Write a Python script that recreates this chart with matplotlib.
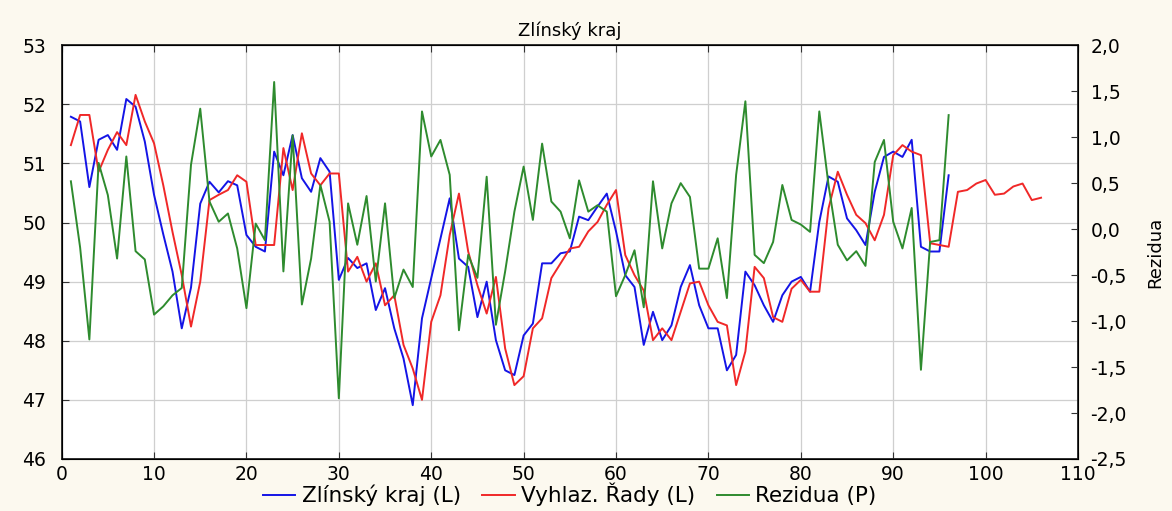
import numpy as np
import matplotlib.pyplot as plt
from matplotlib.ticker import FuncFormatter, MultipleLocator

plt.rcParams['font.family'] = ['DejaVu Sans']

# Zlínský kraj - pozorovaná řada (1..96)
zlin = [51.79, 51.71, 50.60, 51.40, 51.48, 51.23, 52.09, 51.96, 51.37, 50.47,
        49.80, 49.17, 48.21, 48.90, 50.32, 50.69, 50.51, 50.70, 50.63, 49.79,
        49.59, 49.51, 51.20, 50.80, 51.48, 50.75, 50.52, 51.09, 50.86, 49.03,
        49.40, 49.23, 49.31, 48.52, 48.89, 48.21, 47.70, 46.91, 48.38, 49.06,
        49.73, 50.41, 49.39, 49.25, 48.40, 49.00, 48.01, 47.50, 47.42, 48.09,
        48.29, 49.31, 49.31, 49.48, 49.51, 50.10, 50.04, 50.27, 50.49, 49.85,
        49.11, 48.91, 47.93, 48.49, 48.01, 48.26, 48.91, 49.28, 48.60, 48.21,
        48.21, 47.50, 47.76, 49.17, 48.94, 48.60, 48.32, 48.77, 49.00, 49.08,
        48.83, 50.01, 50.78, 50.69, 50.07, 49.87, 49.62, 50.52, 51.11, 51.20,
        51.11, 51.40, 49.59, 49.51, 49.51, 50.80]

# vyhlazená řada vč. předpovědi (1..106)
vyhlaz = [51.31, 51.82, 51.82, 50.86, 51.23, 51.53, 51.31, 52.16, 51.71, 51.34,
          50.63, 49.84, 49.11, 48.24, 49.00, 50.38, 50.47, 50.55, 50.80, 50.69,
          49.62, 49.62, 49.62, 51.26, 50.55, 51.51, 50.83, 50.63, 50.83, 50.83,
          49.17, 49.42, 49.00, 49.31, 48.60, 48.77, 47.93, 47.53, 47.00, 48.32,
          48.77, 49.79, 50.49, 49.51, 48.94, 48.46, 49.08, 47.87, 47.25, 47.40,
          48.21, 48.38, 49.06, 49.31, 49.56, 49.59, 49.85, 50.01, 50.30, 50.55,
          49.45, 49.11, 48.85, 48.01, 48.21, 48.01, 48.49, 48.97, 49.00, 48.60,
          48.32, 48.26, 47.25, 47.82, 49.25, 49.06, 48.40, 48.32, 48.88, 49.03,
          48.83, 48.83, 50.24, 50.86, 50.47, 50.13, 49.99, 49.70, 50.13, 51.14,
          51.31, 51.20, 51.14, 49.65, 49.62, 49.59, 50.52, 50.55, 50.66, 50.72,
          50.47, 50.49, 50.61, 50.66, 50.38, 50.42]

# rezidua (1..96)
rezidua = [0.52, -0.20, -1.20, 0.72, 0.37, -0.32, 0.79, -0.24, -0.33, -0.93,
           -0.84, -0.72, -0.64, 0.70, 1.31, 0.30, 0.08, 0.17, -0.21, -0.86,
           0.06, -0.12, 1.60, -0.46, 1.02, -0.82, -0.32, 0.48, 0.08, -1.84,
           0.28, -0.17, 0.36, -0.57, 0.28, -0.75, -0.44, -0.63, 1.28, 0.79,
           0.97, 0.59, -1.10, -0.28, -0.53, 0.57, -1.04, -0.46, 0.19, 0.68,
           0.10, 0.93, 0.30, 0.19, -0.10, 0.53, 0.19, 0.26, 0.19, -0.73,
           -0.50, -0.23, -0.85, 0.52, -0.21, 0.28, 0.50, 0.35, -0.43, -0.43,
           -0.10, -0.75, 0.59, 1.39, -0.28, -0.37, -0.14, 0.48, 0.10, 0.05,
           -0.03, 1.28, 0.48, -0.17, -0.34, -0.24, -0.40, 0.73, 0.97, 0.08,
           -0.21, 0.23, -1.53, -0.14, -0.12, 1.24]

x_zlin = np.arange(1, len(zlin) + 1)
x_vyhl = np.arange(1, len(vyhlaz) + 1)
x_rez = np.arange(1, len(rezidua) + 1)

fig = plt.figure(figsize=(11.72, 5.11), dpi=100, facecolor='#fcf9ef')
ax = fig.add_axes([0.0526, 0.1018, 0.8672, 0.8097])
ax.set_facecolor('white')

l1, = ax.plot(x_zlin, zlin, color='#1414e6', lw=1.4, label='Zlínský kraj (L)')
l2, = ax.plot(x_vyhl, vyhlaz, color='#f02828', lw=1.4, label='Vyhlaz. Řady (L)')
ax.set_xlim(0, 110)
ax.set_ylim(46, 53)
ax.xaxis.set_major_locator(MultipleLocator(10))
ax.yaxis.set_major_locator(MultipleLocator(1))
ax.grid(True, color='#cfcfcf', lw=0.9)
ax.set_axisbelow(True)
ax.tick_params(direction='in', top=True, length=5, labelsize=13.5, color='#333333')
ax.tick_params(axis='y', pad=11)
ax.tick_params(axis='x', pad=4)
for s in ax.spines.values():
    s.set_color('#222222')
    s.set_linewidth(1.3)

ax2 = ax.twinx()
l3, = ax2.plot(x_rez, rezidua, color='#2e8b2e', lw=1.4, label='Rezidua (P)')
ax2.set_ylim(-2.5, 2.0)
ax2.yaxis.set_major_locator(MultipleLocator(0.5))
ax2.yaxis.set_major_formatter(FuncFormatter(lambda v, p: f'{v:.1f}'.replace('.', ',')))
ax2.tick_params(direction='in', length=5, labelsize=13.5, color='#333333', pad=9)
ax2.set_ylabel('Rezidua', fontsize=13, labelpad=14)

ax.set_title('Zlínský kraj', fontsize=13, pad=7)

ax.legend([l1, l2, l3], [l.get_label() for l in (l1, l2, l3)],
          loc='upper center', bbox_to_anchor=(0.5, -0.055), ncol=3,
          frameon=False, fontsize=15.5, handlelength=1.5, columnspacing=1.0,
          handletextpad=0.3, borderaxespad=0, borderpad=0.05)

fig.savefig('out.png', dpi=100, facecolor=fig.get_facecolor())
